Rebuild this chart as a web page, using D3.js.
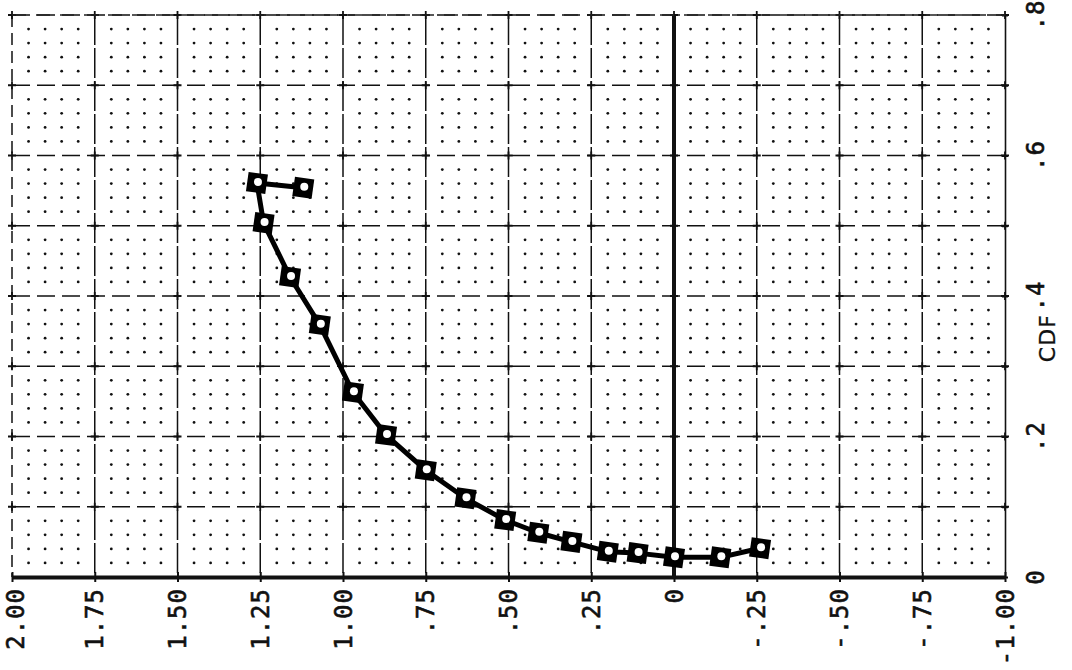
<!DOCTYPE html>
<html>
<head>
<meta charset="utf-8">
<script src="https://cdn.jsdelivr.net/npm/d3@7"></script>
<style>
  body { margin: 0; background: #fff; }
  svg { display: block; }
  .tick-label { font-family: "DejaVu Sans Mono", monospace; font-size: 24px; fill: #111; letter-spacing: 1px; stroke: #111; stroke-width: 0.6px; }
</style>
</head>
<body>
<div id="chart"></div>
<script>
// data, in plotting order (line runs from the right end through zero and up)
const xVals = [-0.26, -0.14, 0.0, 0.11, 0.20, 0.31, 0.41, 0.51, 0.63, 0.75, 0.87, 0.97, 1.07, 1.16, 1.24, 1.26, 1.12]
const cdfVals = [0.041, 0.028, 0.028, 0.034, 0.036, 0.050, 0.063, 0.081, 0.112, 0.152, 0.202, 0.263, 0.359, 0.427, 0.504, 0.561, 0.554]

const xTicks = [2.0, 1.75, 1.5, 1.25, 1.0, 0.75, 0.5, 0.25, 0, -0.25, -0.5, -0.75, -1.0]
const xTickLabels = ['2.00', '1.75', '1.50', '1.25', '1.00', '.75', '.50', '.25', '0', '-.25', '-.50', '-.75', '-1.00']
const yTicks = [0.1, 0.2, 0.3, 0.4, 0.5, 0.6, 0.7, 0.8]
const yLabelTicks = [0, 0.2, 0.4, 0.6, 0.8]
const yTickLabels = ['0', '.2', '.4', '.6', '.8']

const width = 1072, height = 670

const svg = d3.select('#chart').append('svg').attr('width', width).attr('height', height)

const x = d3.scaleLinear().domain([2, -1]).range([12, 1005])
const y = d3.scaleLinear().domain([0, 0.8]).range([577, 15])

// minor dot grid (5 subdivisions each way)
const dots = []
for (let i = 0; i < 12; i++) {
  for (let k = 1; k < 5; k++) {
    const xv = xTicks[i] - k * 0.05
    for (let j = 0; j < 8; j++) {
      for (let m = 1; m < 5; m++) dots.push([xv, j * 0.1 + m * 0.02])
    }
  }
}
svg.append('g').selectAll('circle').data(dots).join('circle')
  .attr('cx', d => x(d[0])).attr('cy', d => y(d[1])).attr('r', 1.4).attr('fill', '#111')

// major grid
svg.append('g').selectAll('line').data(yTicks).join('line')
  .attr('x1', x(2)).attr('x2', x(-1)).attr('y1', d => y(d)).attr('y2', d => y(d))
  .attr('stroke', '#111').attr('stroke-width', 1.5).attr('stroke-dasharray', '18,7')

svg.append('g').selectAll('line').data(xTicks.filter(d => d !== 0 && d !== -1)).join('line')
  .attr('x1', d => x(d)).attr('x2', d => x(d)).attr('y1', y(0.8)).attr('y2', y(0))
  .attr('stroke', '#111').attr('stroke-width', 1.5).attr('stroke-dasharray', d => d === 2 ? '12,6' : '30,3')

// small crosses at grid intersections
const crosses = []
xTicks.forEach(xv => yTicks.forEach(yv => crosses.push([xv, yv])))
svg.append('g').selectAll('path').data(crosses).join('path')
  .attr('d', d => `M${x(d[0]) - 4},${y(d[1])}h8M${x(d[0])},${y(d[1]) - 4}v8`)
  .attr('stroke', '#111').attr('stroke-width', 1.8)

// zero line
svg.append('line').attr('x1', x(0)).attr('x2', x(0)).attr('y1', y(0.8)).attr('y2', y(0))
  .attr('stroke', '#111').attr('stroke-width', 4)

// right axis
const yAxis = svg.append('g').attr('transform', `translate(${x(-1)},0)`)
  .call(d3.axisRight(y).tickValues(yTicks.concat([0])).tickSize(0).tickFormat(''))
yAxis.select('.domain').attr('stroke', '#111').attr('stroke-width', 1.6)
yAxis.selectAll('.tick').append('path').attr('d', 'M-3,0h6').attr('stroke', '#111').attr('stroke-width', 2)

svg.append('g').selectAll('text').data(yLabelTicks).join('text')
  .attr('class', 'tick-label')
  .attr('transform', d => `translate(${x(-1) + 31},${y(d)}) rotate(-90)`)
  .attr('text-anchor', 'middle').attr('dy', '0.35em')
  .text((d, i) => yTickLabels[i])

svg.append('text').attr('class', 'tick-label')
  .attr('transform', `translate(${x(-1) + 42},${y(0.34)}) rotate(-90)`)
  .attr('text-anchor', 'middle').attr('dy', '0.35em')
  .style('letter-spacing', '1px').style('font-family', 'DejaVu Sans, sans-serif').style('font-size', '22px')
  .style('stroke-width', '0.3px')
  .text('CDF')

// bottom axis
const xAxis = svg.append('g').attr('transform', `translate(0,${y(0)})`)
  .call(d3.axisBottom(x).tickValues(xTicks).tickSize(0).tickFormat(''))
xAxis.select('.domain').attr('stroke', '#111').attr('stroke-width', 4)
xAxis.selectAll('.tick').append('path').attr('d', 'M0,-5v10').attr('stroke', '#111').attr('stroke-width', 2)

svg.append('g').selectAll('text').data(xTicks).join('text')
  .attr('class', 'tick-label')
  .attr('transform', d => `translate(${x(d) + (d === 2 ? 3 : 0)},${y(0) + 11}) rotate(-90)`)
  .attr('text-anchor', 'end').attr('dy', '0.36em')
  .text((d, i) => xTickLabels[i])

// top border
svg.append('line').attr('x1', x(2)).attr('x2', x(-1)).attr('y1', y(0.8)).attr('y2', y(0.8))
  .attr('stroke', '#222').attr('stroke-width', 1.4).attr('stroke-dasharray', '14,10')

// data line
const pts = xVals.map((v, i) => [v, cdfVals[i]])
svg.append('path').datum(pts)
  .attr('d', d3.line().x(d => x(d[0])).y(d => y(d[1])))
  .attr('fill', 'none').attr('stroke', '#000').attr('stroke-width', 5).attr('stroke-linejoin', 'round')

// markers
const mk = svg.append('g').selectAll('g').data(pts).join('g')
  .attr('transform', d => `translate(${x(d[0])},${y(d[1])})`)
mk.append('path').attr('d', d3.symbol().type(d3.symbolSquare).size(380)).attr('fill', '#000')
  .attr('transform', 'rotate(8)')
mk.append('circle').attr('r', 4).attr('cx', 1).attr('cy', -1).attr('fill', '#fff')
</script>
</body>
</html>
